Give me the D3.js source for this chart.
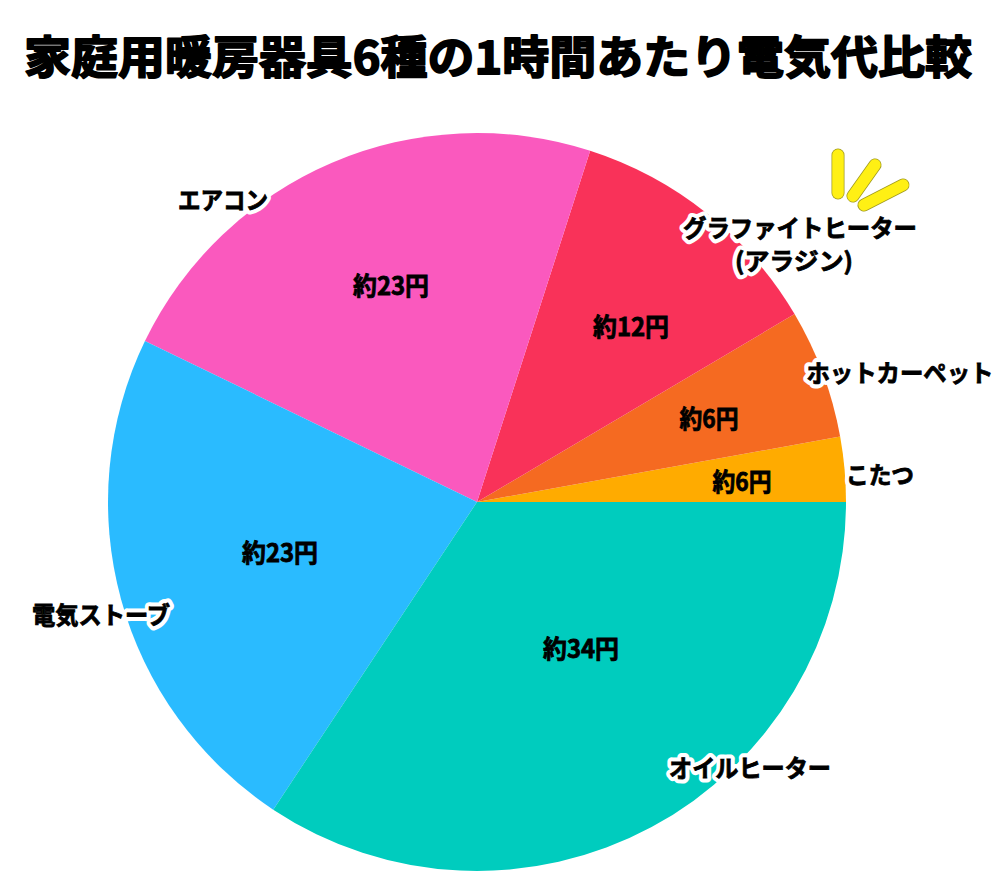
<!DOCTYPE html>
<html><head><meta charset="utf-8">
<script src="https://d3js.org/d3.v7.min.js"></script>
<style>html,body{margin:0;padding:0;background:#fff;overflow:hidden}
text{font-family:"Noto Sans CJK JP","Noto Sans",sans-serif;font-weight:700;fill:#000;text-anchor:middle;dominant-baseline:central}</style>
</head><body><svg id="c" width="1006" height="886"></svg>
<script>
const titleText = "家庭用暖房器具6種の1時間あたり電気代比較";
const categories = ["こたつ","ホットカーペット","グラファイトヒーター","エアコン","電気ストーブ","オイルヒーター"];
const sliceValues = [2.95, 5.9, 12, 23.7, 23.8, 35.7];
const valueLabels = ["約6円","約6円","約12円","約23円","約23円","約34円"];
const colors = ["#ffab00","#f56a21","#f93259","#fa59be","#2abbff","#00ccbe"];
const valuePos = [[742,480],[709,417],[631,325],[391,284],[280,551],[581,647]];
const valueWidths = [59,59,76,76,76,76];
const namePos = [[[880,473]],[[900,371]],[[800,226],[794,259]],[[223,198]],[[101,613]],[[750,766]]];
const nameLines = [["こたつ"],["ホットカーペット"],["グラファイトヒーター","(アラジン)"],["エアコン"],["電気ストーブ"],["オイルヒーター"]];
const nameWidths = [[68],[187],[234,118],[90],[138],[162]];
const sparks = [[838,155,838,193],[875,165,853,196],[903,185,864,205]];

const svg = d3.select("#c");
svg.append("text").attr("x",498).attr("y",54).attr("font-size",45)
  .attr("textLength",948).attr("lengthAdjust","spacingAndGlyphs")
  .attr("stroke","#000").attr("stroke-width",1.8).attr("stroke-linejoin","round").text(titleText);

const g = svg.append("g").attr("transform","translate(477,502)");
const pie = d3.pie().sort(null).startAngle(Math.PI/2).endAngle(Math.PI/2-2*Math.PI);
const arc = d3.arc().innerRadius(0).outerRadius(369);
g.selectAll("path").data(pie(sliceValues)).join("path")
  .attr("d",arc).attr("fill",(d,i)=>colors[i]);

valueLabels.forEach((t,i)=>{
  svg.append("text").attr("x",valuePos[i][0]).attr("y",valuePos[i][1]).attr("font-size",25)
    .attr("textLength",valueWidths[i]).attr("lengthAdjust","spacingAndGlyphs")
    .attr("stroke","#000").attr("stroke-width",0.8).text(t);
});

sparks.forEach(s=>{
  svg.append("line").attr("x1",s[0]).attr("y1",s[1]).attr("x2",s[2]).attr("y2",s[3])
    .attr("stroke","#a09a20").attr("stroke-width",13).attr("stroke-linecap","round");
  svg.append("line").attr("x1",s[0]).attr("y1",s[1]).attr("x2",s[2]).attr("y2",s[3])
    .attr("stroke","#fff014").attr("stroke-width",11.5).attr("stroke-linecap","round");
});

categories.forEach((c,i)=>{
  nameLines[i].forEach((t,j)=>{
    const p = namePos[i][j];
    const add = () => svg.append("text").attr("x",p[0]).attr("y",p[1]).attr("font-size",24)
      .attr("textLength",nameWidths[i][j]).attr("lengthAdjust","spacingAndGlyphs").text(t);
    add().attr("stroke","#fff").attr("stroke-width",9).attr("stroke-linejoin","round");
    add().attr("stroke","#000").attr("stroke-width",0.8);
  });
});
</script></body></html>
